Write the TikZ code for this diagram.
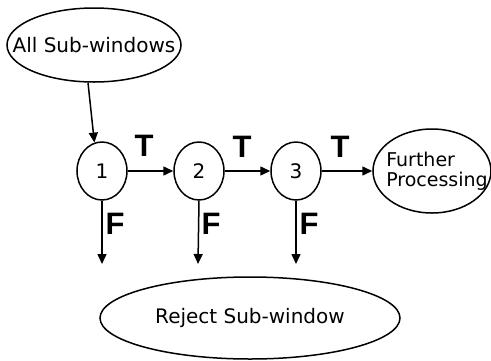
\documentclass[tikz,border=0pt]{standalone}
\usepackage{fontspec}
\setmainfont{DejaVu Sans}
\newfontfamily\labfont{Liberation Sans}
\usetikzlibrary{shapes.geometric,arrows.meta}

\begin{document}
\begin{tikzpicture}[x=1pt,y=-1pt,
  every node/.style={inner sep=0pt},
  oval/.style={ellipse,draw,line width=1.5pt},
  words/.style={font=\fontsize{20}{22}\selectfont},
  stage/.style={oval,words,minimum width=50pt,minimum height=58pt},
  flow/.style={line width=1.5pt,-{Triangle[width=9pt,length=10pt]}},
  branch/.style={font=\labfont\bfseries\fontsize{31}{31}\selectfont}]
  \useasboundingbox (0,0) rectangle (491,360);

  % input and output ovals, fixed size, text set on top
  \node[oval,minimum width=174pt,minimum height=74pt] (all) at (94,45) {};
  \node[words] (allt) at (all.center) {All Sub-windows};
  \node[oval,minimum width=118pt,minimum height=84pt] (further) at (432,171) {};
  \node[words,align=left,font=\fontsize{19}{20}\selectfont] (furthert) at ([xshift=5pt]further.center) {Further\\Processing};
  \node[oval,minimum width=300pt,minimum height=82pt] (reject) at (250,318) {};
  \node[words] (rejectt) at (reject.center) {Reject Sub-window};

  % cascade stages
  \node[stage] (s1) at (102,171) {1};
  \node[stage] (s2) at (199,171) {2};
  \node[stage] (s3) at (296,171) {3};

  % ends of the reject arrows
  \coordinate (f1) at (102,264);
  \coordinate (f2) at (198,264);
  \coordinate (f3) at (296,264);

  % connectors
  \draw[flow] ([xshift=-6pt]all.south) -- (s1.105);
  \draw[flow] (s1.east) -- (s2.west);
  \draw[flow] (s2.east) -- (s3.west);
  \draw[flow] (s3.east) -- (further.west);
  \draw[flow] (s1.south) -- (f1);
  \draw[flow] (s2.south) -- (f2);
  \draw[flow] (s3.south) -- (f3);

  % branch labels
  \node[branch] (t1) at (144,146) {T};
  \node[branch] (t2) at (242,147) {T};
  \node[branch] (t3) at (340,147) {T};
  \node[branch] (n1) at (115,224) {F};
  \node[branch] (n2) at (211,224) {F};
  \node[branch] (n3) at (309,224) {F};
\end{tikzpicture}
\end{document}
